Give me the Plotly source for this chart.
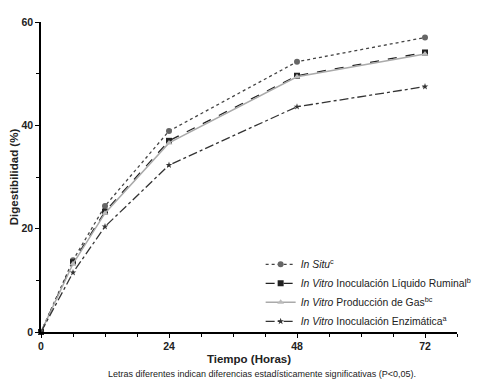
import plotly.graph_objects as go

hours = [0, 6, 12, 24, 48, 72]
in_situ = [0, 13.9, 24.4, 38.9, 52.3, 57.0]
liq_ruminal = [0, 13.5, 23.3, 37.0, 49.6, 54.1]
prod_gas = [0, 13.2, 23.0, 36.6, 49.4, 53.8]
enzimatica = [0, 11.5, 20.4, 32.3, 43.6, 47.5]

names = [
    "<i>In Situ</i><sup>c</sup>",
    "<i>In Vitro</i> Inoculación Líquido Ruminal<sup>b</sup>",
    "<i>In Vitro</i> Producción de Gas<sup>bc</sup>",
    "<i>In Vitro</i> Inoculación Enzimática<sup>a</sup>",
]

fig = go.Figure()
fig.add_trace(go.Scatter(x=hours, y=in_situ, name=names[0], mode="lines+markers",
                         line=dict(color="#444444", width=1.3, dash="dot"),
                         marker=dict(symbol="circle", size=6, color="#666666"), cliponaxis=False))
fig.add_trace(go.Scatter(x=hours, y=liq_ruminal, name=names[1], mode="lines+markers",
                         line=dict(color="#222222", width=1.3, dash="dash"),
                         marker=dict(symbol="square", size=6, color="#222222"), cliponaxis=False))
fig.add_trace(go.Scatter(x=hours, y=prod_gas, name=names[2], mode="lines+markers",
                         line=dict(color="#aaaaaa", width=1.5),
                         marker=dict(symbol="triangle-up", size=6, color="#bbbbbb"), cliponaxis=False))
fig.add_trace(go.Scatter(x=hours, y=enzimatica, name=names[3], mode="lines+markers",
                         line=dict(color="#333333", width=1.3, dash="dashdot"),
                         marker=dict(symbol="star", size=5, color="#333333"), cliponaxis=False))

# page has an 8px body margin, so the figure is sized/offset to compensate
fig.update_layout(
    width=485, height=380,
    margin=dict(l=33, r=36, t=14, b=56),
    plot_bgcolor="white", paper_bgcolor="white",
    font=dict(family="Liberation Sans, Arial, sans-serif", color="#222222", size=10),
    legend=dict(x=0.528, y=0.265, xanchor="left", yanchor="top",
                bgcolor="rgba(0,0,0,0)", font=dict(size=10.4), itemwidth=30,
                tracegroupgap=0),
    xaxis=dict(range=[0, 78], tickvals=[0, 24, 48, 72], showline=True, linecolor="black",
               linewidth=1.5, ticks="outside", ticklen=4, tickcolor="black", showgrid=False,
               zeroline=False, automargin=False,
               tickfont=dict(size=10.5, family="Liberation Sans, Arial", weight="bold"),
               minor=dict(tickvals=[6, 12, 18, 30, 36, 42, 54, 60, 66, 78], ticks="outside",
                          ticklen=3, tickcolor="black"),
               title=dict(text="<b>Tiempo (Horas)</b>", font=dict(size=11.5), standoff=4)),
    yaxis=dict(range=[0, 60], tickvals=[0, 20, 40, 60], showline=True, linecolor="black",
               linewidth=1.5, ticks="outside", ticklen=4, tickcolor="black", showgrid=False,
               zeroline=False, automargin=False,
               tickfont=dict(size=10.5, family="Liberation Sans, Arial", weight="bold"),
               minor=dict(tickvals=[10, 30, 50], ticks="outside", ticklen=3, tickcolor="black"),
               title=dict(text="<b>Digestibilidad (%)</b>", font=dict(size=11.5), standoff=4)),
    annotations=[dict(text="Letras diferentes indican diferencias estadísticamente significativas (P<0,05).",
                      x=0.531, xref="paper", y=-0.135, yref="paper", yanchor="middle", showarrow=False,
                      font=dict(size=9))],
)

fig.write_html("out.html")
